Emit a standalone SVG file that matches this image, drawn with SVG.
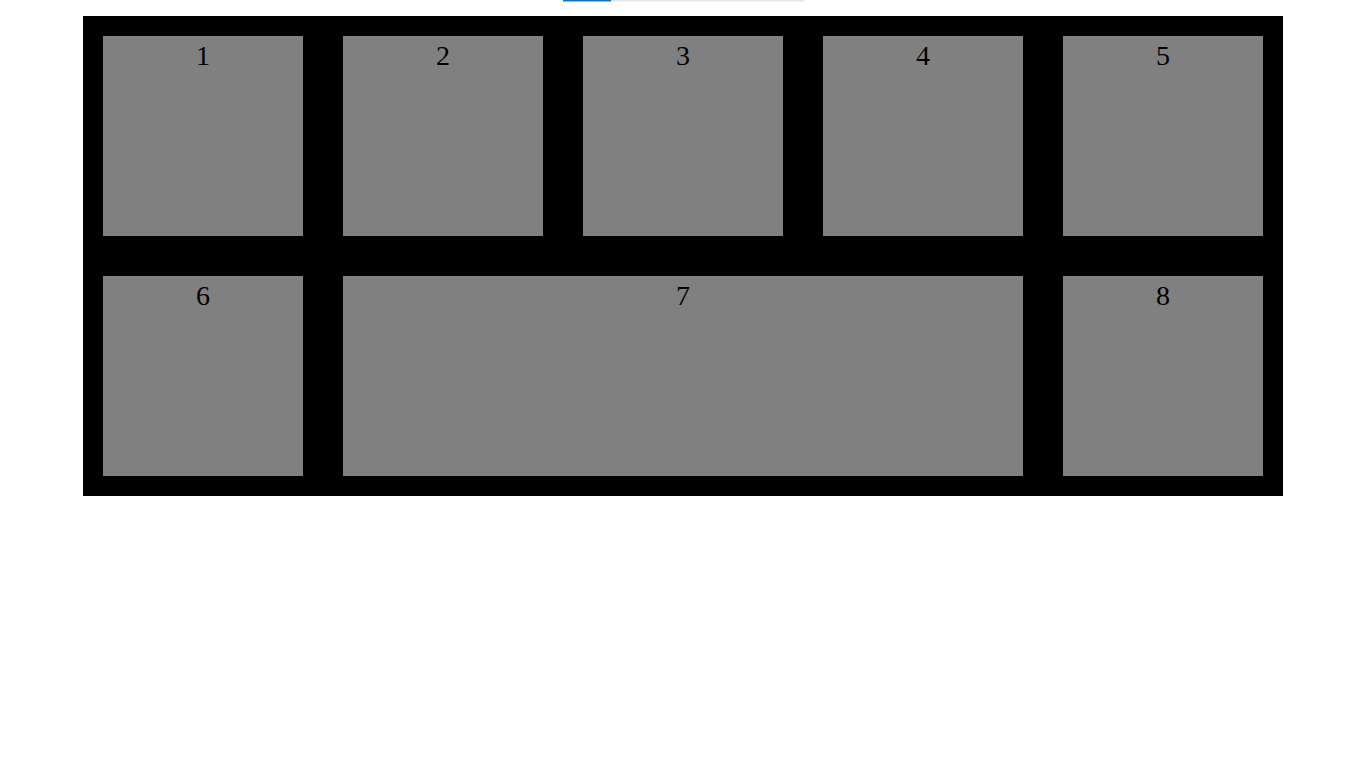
<svg xmlns="http://www.w3.org/2000/svg" width="1366" height="768" viewBox="0 0 1366 768">
<style>
.cell{fill:#808080}
.lbl{font-family:"Liberation Serif","Times New Roman",serif;font-size:28px;fill:#000;text-anchor:middle}
</style>
<rect x="0" y="0" width="1366" height="768" fill="#fff"/>
<rect x="563" y="0" width="48" height="1.5" fill="#0078d7"/>
<rect x="611" y="0" width="193" height="1.5" fill="#e6e6e6"/>
<rect x="83" y="16" width="1200" height="480" fill="#000"/>
<g id="n1"><rect class="cell" x="103" y="36" width="200" height="200"/><text class="lbl" x="203" y="65">1</text></g>
<g id="n2"><rect class="cell" x="343" y="36" width="200" height="200"/><text class="lbl" x="443" y="65">2</text></g>
<g id="n3"><rect class="cell" x="583" y="36" width="200" height="200"/><text class="lbl" x="683" y="65">3</text></g>
<g id="n4"><rect class="cell" x="823" y="36" width="200" height="200"/><text class="lbl" x="923" y="65">4</text></g>
<g id="n5"><rect class="cell" x="1063" y="36" width="200" height="200"/><text class="lbl" x="1163" y="65">5</text></g>
<g id="n6"><rect class="cell" x="103" y="276" width="200" height="200"/><text class="lbl" x="203" y="305">6</text></g>
<g id="n7"><rect class="cell" x="343" y="276" width="680" height="200"/><text class="lbl" x="683" y="305">7</text></g>
<g id="n8"><rect class="cell" x="1063" y="276" width="200" height="200"/><text class="lbl" x="1163" y="305">8</text></g>
<g id="connectors"></g>
</svg>
